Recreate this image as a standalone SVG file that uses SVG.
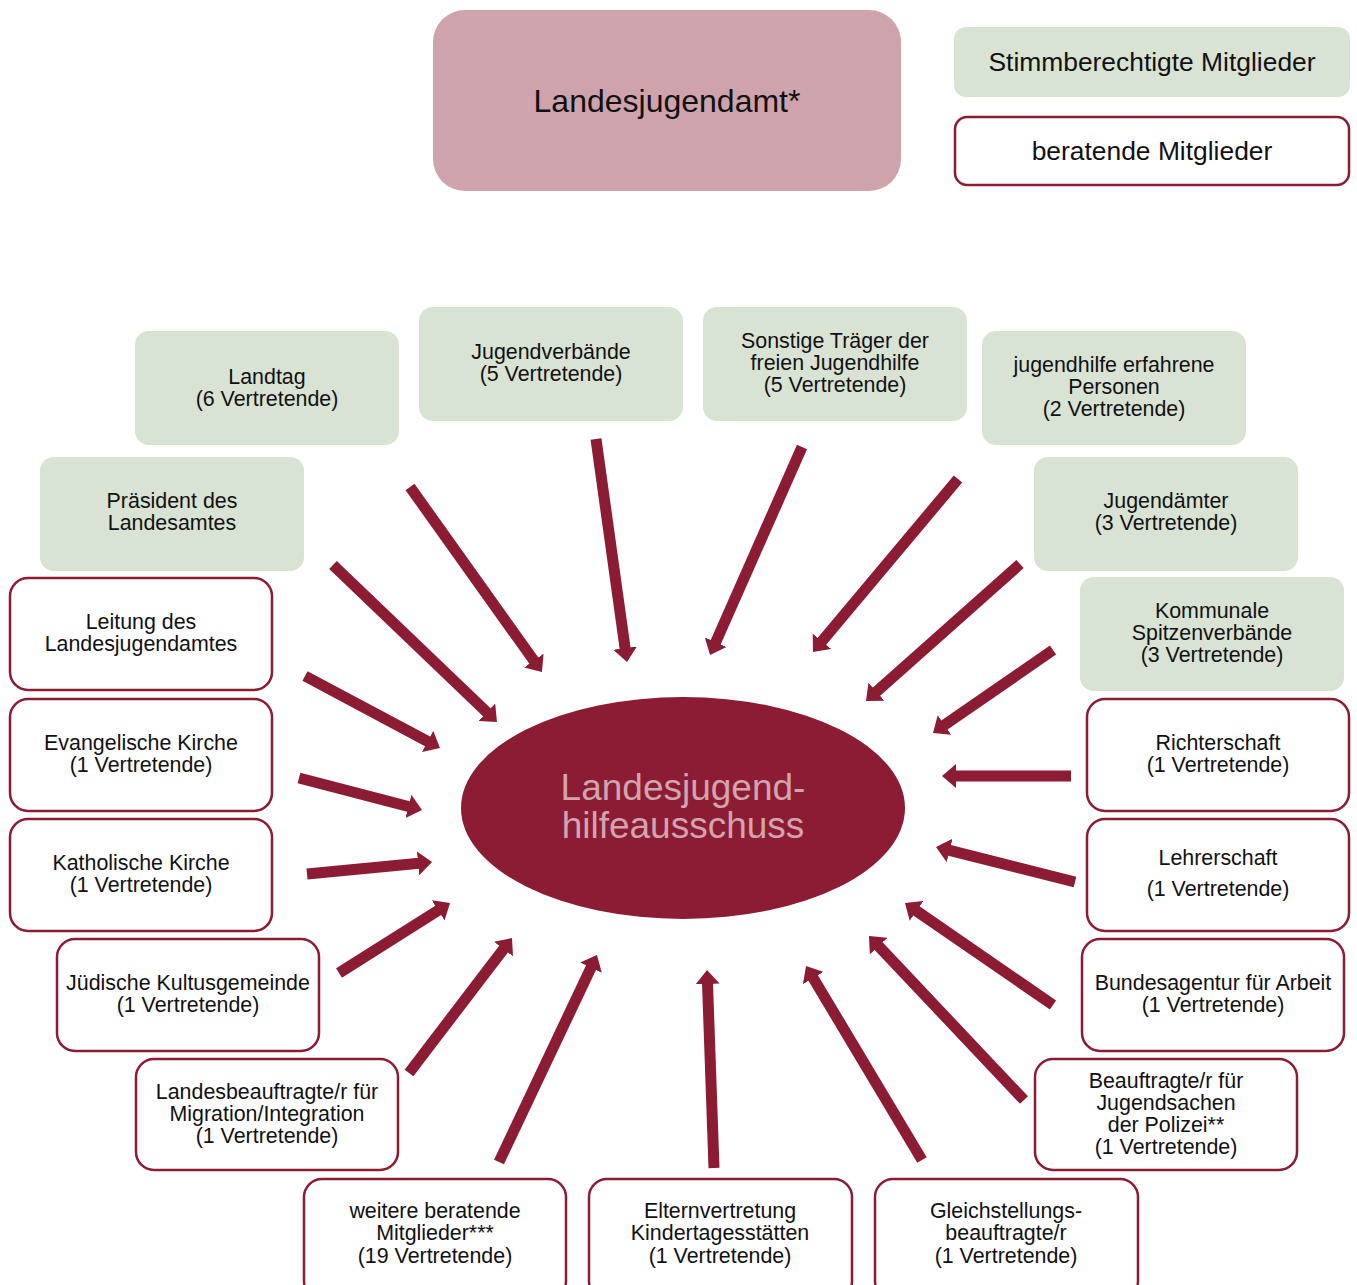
<svg xmlns="http://www.w3.org/2000/svg" width="1357" height="1285" viewBox="0 0 1357 1285">
<defs>
<style>
.t{font-family:"Liberation Sans",Arial,sans-serif;font-size:21.4px;fill:#111;text-anchor:middle}
.g{fill:#d9e3d3}
.w{fill:#fff;stroke:#8b1c33;stroke-width:2.5}
.a{stroke:#8b1c33;stroke-width:11;fill:none;marker-end:url(#ah)}
</style>
<marker id="ah" markerUnits="userSpaceOnUse" markerWidth="14" markerHeight="24" viewBox="0 0 14 24" refX="1" refY="12" orient="auto">
<path d="M0,0 L14,12 L0,24 Z" fill="#8b1c33"/>
</marker>
</defs>
<rect width="1357" height="1285" fill="#fff"/>

<g id="landesjugendamt">
<rect x="433" y="10" width="468" height="181" rx="32" fill="#cea3ab"/>
<text class="t" x="667" y="112" style="font-size:32px">Landesjugendamt*</text>
</g>
<g id="legend-stimm">
<rect class="g" x="954" y="27" width="396" height="70" rx="12"/>
<text class="t" x="1152" y="71" style="font-size:26.4px">Stimmberechtigte Mitglieder</text>
</g>
<g id="legend-beratend">
<rect class="w" x="955" y="117" width="394" height="68" rx="12"/>
<text class="t" x="1152" y="160" style="font-size:26.4px">beratende Mitglieder</text>
</g>

<g id="connectors">
<line class="a" x1="410" y1="487" x2="534.4" y2="661.4"/>
<line class="a" x1="596" y1="439" x2="625.2" y2="649.1"/>
<line class="a" x1="802" y1="447" x2="715.3" y2="643.1"/>
<line class="a" x1="958" y1="479" x2="821.3" y2="642"/>
<line class="a" x1="1020" y1="564" x2="875.7" y2="692.4"/>
<line class="a" x1="1053" y1="650" x2="943.7" y2="725.6"/>
<line class="a" x1="1071" y1="776" x2="955" y2="776"/>
<line class="a" x1="1075" y1="882" x2="948.6" y2="850.2"/>
<line class="a" x1="1053" y1="1005" x2="915.7" y2="910.4"/>
<line class="a" x1="1024" y1="1100" x2="877.9" y2="945.4"/>
<line class="a" x1="922" y1="1160" x2="812.7" y2="977.2"/>
<line class="a" x1="714" y1="1168" x2="707.5" y2="983"/>
<line class="a" x1="499" y1="1162" x2="591.4" y2="966.8"/>
<line class="a" x1="409" y1="1073" x2="504.1" y2="948.3"/>
<line class="a" x1="339" y1="973" x2="439" y2="909.9"/>
<line class="a" x1="307" y1="874" x2="419.1" y2="863.2"/>
<line class="a" x1="299" y1="778" x2="409.4" y2="806.7"/>
<line class="a" x1="305" y1="676" x2="428.5" y2="741.9"/>
<line class="a" x1="333" y1="565" x2="487.6" y2="713"/>
</g>

<g id="ausschuss">
<ellipse cx="683" cy="808" rx="222" ry="111" fill="#8b1c33"/>
<text class="t" x="683" y="800" style="font-size:37px;fill:#d2a4ad">Landesjugend-</text>
<text class="t" x="683" y="838" style="font-size:37px;fill:#d2a4ad">hilfeausschuss</text>
</g>

<g id="landtag">
<rect class="g" x="135" y="331" width="264" height="114" rx="14"/>
<text class="t" x="267" y="384">Landtag</text>
<text class="t" x="267" y="406">(6 Vertretende)</text>
</g>
<g id="jugendverbaende">
<rect class="g" x="419" y="307" width="264" height="114" rx="14"/>
<text class="t" x="551" y="359">Jugendverbände</text>
<text class="t" x="551" y="381">(5 Vertretende)</text>
</g>
<g id="sonstige">
<rect class="g" x="703" y="307" width="264" height="114" rx="14"/>
<text class="t" x="835" y="348">Sonstige Träger der</text>
<text class="t" x="835" y="370">freien Jugendhilfe</text>
<text class="t" x="835" y="392">(5 Vertretende)</text>
</g>
<g id="erfahrene">
<rect class="g" x="982" y="331" width="264" height="114" rx="14"/>
<text class="t" x="1114" y="372">jugendhilfe erfahrene</text>
<text class="t" x="1114" y="394">Personen</text>
<text class="t" x="1114" y="416">(2 Vertretende)</text>
</g>
<g id="praesident">
<rect class="g" x="40" y="457" width="264" height="114" rx="14"/>
<text class="t" x="172" y="508">Präsident des</text>
<text class="t" x="172" y="530">Landesamtes</text>
</g>
<g id="jugendaemter">
<rect class="g" x="1034" y="457" width="264" height="114" rx="14"/>
<text class="t" x="1166" y="508">Jugendämter</text>
<text class="t" x="1166" y="530">(3 Vertretende)</text>
</g>
<g id="kommunale">
<rect class="g" x="1080" y="577" width="264" height="114" rx="14"/>
<text class="t" x="1212" y="618">Kommunale</text>
<text class="t" x="1212" y="640">Spitzenverbände</text>
<text class="t" x="1212" y="662">(3 Vertretende)</text>
</g>

<g id="leitung">
<rect class="w" x="10" y="578" width="262" height="112" rx="18"/>
<text class="t" x="141" y="629">Leitung des</text>
<text class="t" x="141" y="651">Landesjugendamtes</text>
</g>
<g id="evangelisch">
<rect class="w" x="10" y="699" width="262" height="112" rx="18"/>
<text class="t" x="141" y="750">Evangelische Kirche</text>
<text class="t" x="141" y="772">(1 Vertretende)</text>
</g>
<g id="katholisch">
<rect class="w" x="10" y="819" width="262" height="112" rx="18"/>
<text class="t" x="141" y="870">Katholische Kirche</text>
<text class="t" x="141" y="892">(1 Vertretende)</text>
</g>
<g id="juedisch">
<rect class="w" x="57" y="939" width="262" height="112" rx="18"/>
<text class="t" x="188" y="990">Jüdische Kultusgemeinde</text>
<text class="t" x="188" y="1012">(1 Vertretende)</text>
</g>
<g id="migration">
<rect class="w" x="136" y="1059" width="262" height="111" rx="18"/>
<text class="t" x="267" y="1099">Landesbeauftragte/r für</text>
<text class="t" x="267" y="1121">Migration/Integration</text>
<text class="t" x="267" y="1143">(1 Vertretende)</text>
</g>
<g id="weitere">
<rect class="w" x="304" y="1179" width="262" height="120" rx="18"/>
<text class="t" x="435" y="1218">weitere beratende</text>
<text class="t" x="435" y="1240">Mitglieder***</text>
<text class="t" x="435" y="1263">(19 Vertretende)</text>
</g>
<g id="eltern">
<rect class="w" x="589" y="1179" width="263" height="120" rx="18"/>
<text class="t" x="720" y="1218">Elternvertretung</text>
<text class="t" x="720" y="1240">Kindertagesstätten</text>
<text class="t" x="720" y="1263">(1 Vertretende)</text>
</g>
<g id="gleichstellung">
<rect class="w" x="875" y="1179" width="263" height="120" rx="18"/>
<text class="t" x="1006" y="1218">Gleichstellungs-</text>
<text class="t" x="1006" y="1240">beauftragte/r</text>
<text class="t" x="1006" y="1263">(1 Vertretende)</text>
</g>
<g id="richterschaft">
<rect class="w" x="1087" y="699" width="262" height="112" rx="18"/>
<text class="t" x="1218" y="750">Richterschaft</text>
<text class="t" x="1218" y="772">(1 Vertretende)</text>
</g>
<g id="lehrerschaft">
<rect class="w" x="1087" y="819" width="262" height="112" rx="18"/>
<text class="t" x="1218" y="865">Lehrerschaft</text>
<text class="t" x="1218" y="896">(1 Vertretende)</text>
</g>
<g id="bundesagentur">
<rect class="w" x="1082" y="939" width="262" height="112" rx="18"/>
<text class="t" x="1213" y="990">Bundesagentur für Arbeit</text>
<text class="t" x="1213" y="1012">(1 Vertretende)</text>
</g>
<g id="polizei">
<rect class="w" x="1035" y="1059" width="262" height="111" rx="18"/>
<text class="t" x="1166" y="1088">Beauftragte/r für</text>
<text class="t" x="1166" y="1110">Jugendsachen</text>
<text class="t" x="1166" y="1132">der Polizei**</text>
<text class="t" x="1166" y="1154">(1 Vertretende)</text>
</g>
</svg>
